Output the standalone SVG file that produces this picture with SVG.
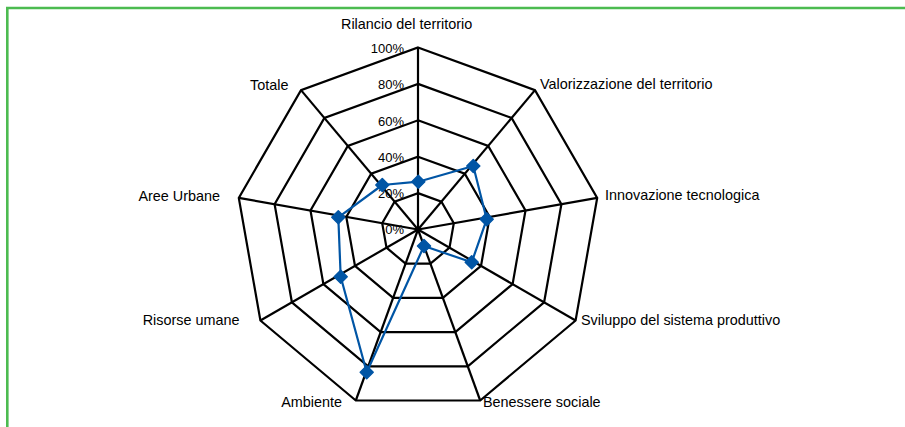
<svg xmlns="http://www.w3.org/2000/svg" width="905" height="427" viewBox="0 0 905 427">
<style>
.ring{fill:none;stroke:#000;stroke-width:2.2;stroke-linejoin:miter}
.axis{stroke:#000;stroke-width:2.2}
.cat{font-family:"Liberation Sans",Arial,sans-serif;font-size:14.4px;fill:#000}
.pct{font-family:"Liberation Sans",Arial,sans-serif;font-size:13px;fill:#000;text-anchor:end}
.series{fill:none;stroke:#0055A5;stroke-width:2.2;stroke-linejoin:round}
.mk{fill:#0055A5;stroke:#0055A5;stroke-width:1.5;stroke-linejoin:round}
</style>
<defs>
<path id="dm" class="mk" d="M0,-6.5 L6.5,0 L0,6.5 L-6.5,0 Z"/>
</defs>
<rect width="905" height="427" fill="#fff"/>
<path d="M7.3,427 V8 H905" fill="none" stroke="#4cbb50" stroke-width="2.6"/>
<g id="grid">
<polygon class="ring" points="418,47.5 535.0,90.1 597.2,197.9 575.6,320.5 480.2,400.5 355.8,400.5 260.4,320.5 238.8,197.9 301.0,90.1"/>
<polygon class="ring" points="418,83.9 511.6,118.0 561.4,204.2 544.1,302.3 467.8,366.3 368.2,366.3 291.9,302.3 274.6,204.2 324.4,118.0"/>
<polygon class="ring" points="418,120.3 488.2,145.9 525.5,210.5 512.6,284.1 455.3,332.1 380.7,332.1 323.4,284.1 310.5,210.5 347.8,145.9"/>
<polygon class="ring" points="418,156.7 464.8,173.7 489.7,216.9 481.0,265.9 442.9,297.9 393.1,297.9 355.0,265.9 346.3,216.9 371.2,173.7"/>
<polygon class="ring" points="418,193.1 441.4,201.6 453.8,223.2 449.5,247.7 430.4,263.7 405.6,263.7 386.5,247.7 382.2,223.2 394.6,201.6"/>
</g>
<g id="connectors">
<line class="axis" x1="418" y1="229.5" x2="418" y2="47.5"/>
<line class="axis" x1="418" y1="229.5" x2="535.0" y2="90.1"/>
<line class="axis" x1="418" y1="229.5" x2="597.2" y2="197.9"/>
<line class="axis" x1="418" y1="229.5" x2="575.6" y2="320.5"/>
<line class="axis" x1="418" y1="229.5" x2="480.2" y2="400.5"/>
<line class="axis" x1="418" y1="229.5" x2="355.8" y2="400.5"/>
<line class="axis" x1="418" y1="229.5" x2="260.4" y2="320.5"/>
<line class="axis" x1="418" y1="229.5" x2="238.8" y2="197.9"/>
<line class="axis" x1="418" y1="229.5" x2="301.0" y2="90.1"/>
</g>
<g id="scale">
<text class="pct" x="404" y="53">100%</text>
<text class="pct" x="404" y="89">80%</text>
<text class="pct" x="404" y="125.5">60%</text>
<text class="pct" x="404" y="162">40%</text>
<text class="pct" x="404" y="198">20%</text>
<text class="pct" x="404" y="234">0%</text>
</g>
<g id="series">
<polygon class="series" points="418.3,181.7 473.3,166 486.7,219.3 471.7,262.3 424,246 366.7,372.3 340.7,276.7 338.3,217.3 382.3,185"/>
<use href="#dm" x="418.3" y="181.7"/>
<use href="#dm" x="473.3" y="166"/>
<use href="#dm" x="486.7" y="219.3"/>
<use href="#dm" x="471.7" y="262.3"/>
<use href="#dm" x="424" y="246"/>
<use href="#dm" x="366.7" y="372.3"/>
<use href="#dm" x="340.7" y="276.7"/>
<use href="#dm" x="338.3" y="217.3"/>
<use href="#dm" x="382.3" y="185"/>
</g>
<g id="n-rilancio"><text class="cat" x="341" y="28.5">Rilancio del territorio</text></g>
<g id="n-valorizzazione"><text class="cat" x="540" y="88.5">Valorizzazione del territorio</text></g>
<g id="n-innovazione"><text class="cat" x="605" y="200">Innovazione tecnologica</text></g>
<g id="n-sviluppo"><text class="cat" x="581" y="325">Sviluppo del sistema produttivo</text></g>
<g id="n-benessere"><text class="cat" x="483" y="406.5">Benessere sociale</text></g>
<g id="n-ambiente"><text class="cat" x="342" y="406.5" text-anchor="end">Ambiente</text></g>
<g id="n-risorse"><text class="cat" x="239.5" y="325" text-anchor="end">Risorse umane</text></g>
<g id="n-aree"><text class="cat" x="220" y="200.5" text-anchor="end">Aree Urbane</text></g>
<g id="n-totale"><text class="cat" x="288.5" y="89.5" text-anchor="end">Totale</text></g>
</svg>
